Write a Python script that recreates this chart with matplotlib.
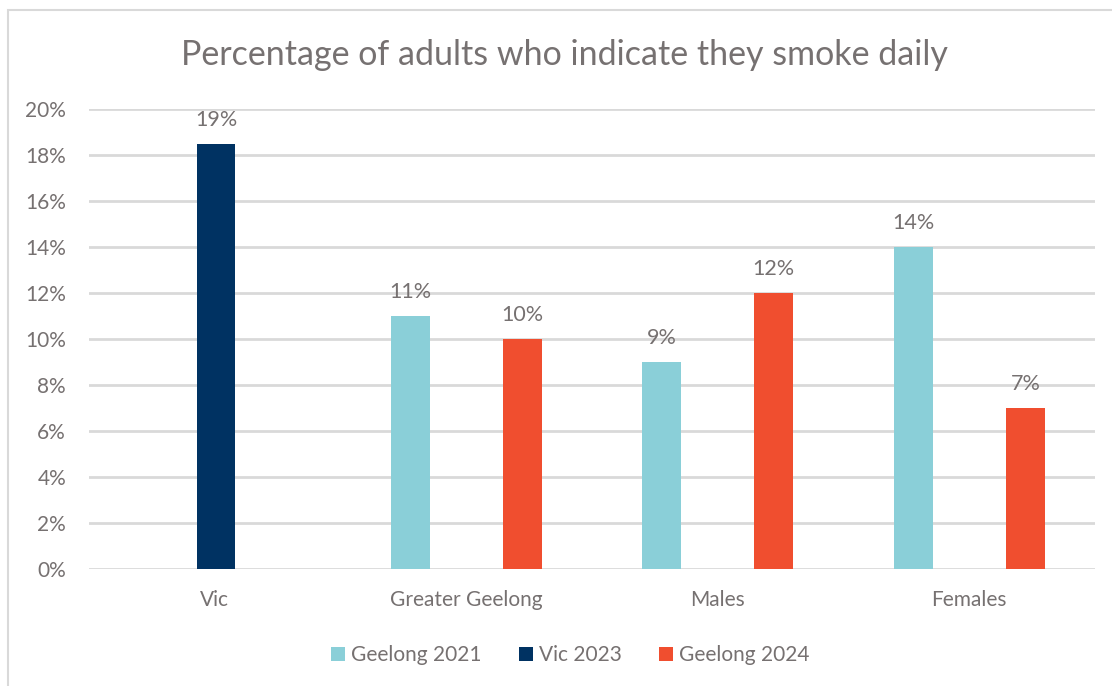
import numpy as np
import matplotlib.pyplot as plt
from matplotlib.patches import Rectangle

categories = ['Vic', 'Greater Geelong', 'Males', 'Females']
series_names = ['Geelong 2021', 'Vic 2023', 'Geelong 2024']
geelong_2021 = [np.nan, 11, 9, 14]
vic_2023 = [18.5, np.nan, np.nan, np.nan]
geelong_2024 = [np.nan, 10, 12, 7]
colours = ['#8ACFD8', '#003262', '#F04E2F']

text_col = '#767171'
grid_col = '#D9D9D9'

plt.rcParams['font.family'] = ['Lato', 'DejaVu Sans']

fig = plt.figure(figsize=(11.12, 6.86), dpi=100)
ax = fig.add_axes([89 / 1112, 1 - 569 / 686, 1006 / 1112, 460 / 686])

# outer chart border
fig.patches.append(Rectangle((8 / 1112, -0.01), 1.02, 1 - 10 / 686 + 0.01,
                             transform=fig.transFigure, fill=False,
                             edgecolor=grid_col, linewidth=1.5))

x = np.arange(len(categories)) + 0.5
offsets = [-0.223, 0.005, 0.223]
width = 0.155
for vals, name, col, off in zip([geelong_2021, vic_2023, geelong_2024], series_names, colours, offsets):
    ax.bar(x + off, vals, width=width, color=col, label=name, zorder=3)
    for xi, v in zip(x + off, vals):
        if np.isnan(v):
            continue
        # round half up for the value labels
        ax.text(xi, v + 0.6, f'{int(v + 0.5)}%', ha='center', va='bottom',
                fontsize=15.5, color=text_col)

ax.set_xlim(0, 4)
ax.set_ylim(0, 20)
ax.set_yticks(np.arange(0, 21, 2))
ax.set_yticklabels([f'{t}%' for t in range(0, 21, 2)])
ax.set_xticks(x)
ax.set_xticklabels(categories)
ax.tick_params(axis='both', length=0, labelsize=15, labelcolor=text_col)
ax.tick_params(axis='y', pad=16.5)
ax.tick_params(axis='x', pad=15)
ax.grid(axis='y', color=grid_col, linewidth=2, zorder=0)
for s in ax.spines.values():
    s.set_visible(False)

fig.text(0.508, 1 - 55 / 686, 'Percentage of adults who indicate they smoke daily',
         ha='center', va='center', fontsize=24.5, color=text_col)

fig.legend(loc='center', bbox_to_anchor=(0.513, 1 - 655 / 686), ncol=3, frameon=False,
           fontsize=15, labelcolor=text_col, handlelength=0.65, handleheight=0.65,
           handletextpad=0.3, columnspacing=1.8)

fig.savefig('out.png', dpi=100)
